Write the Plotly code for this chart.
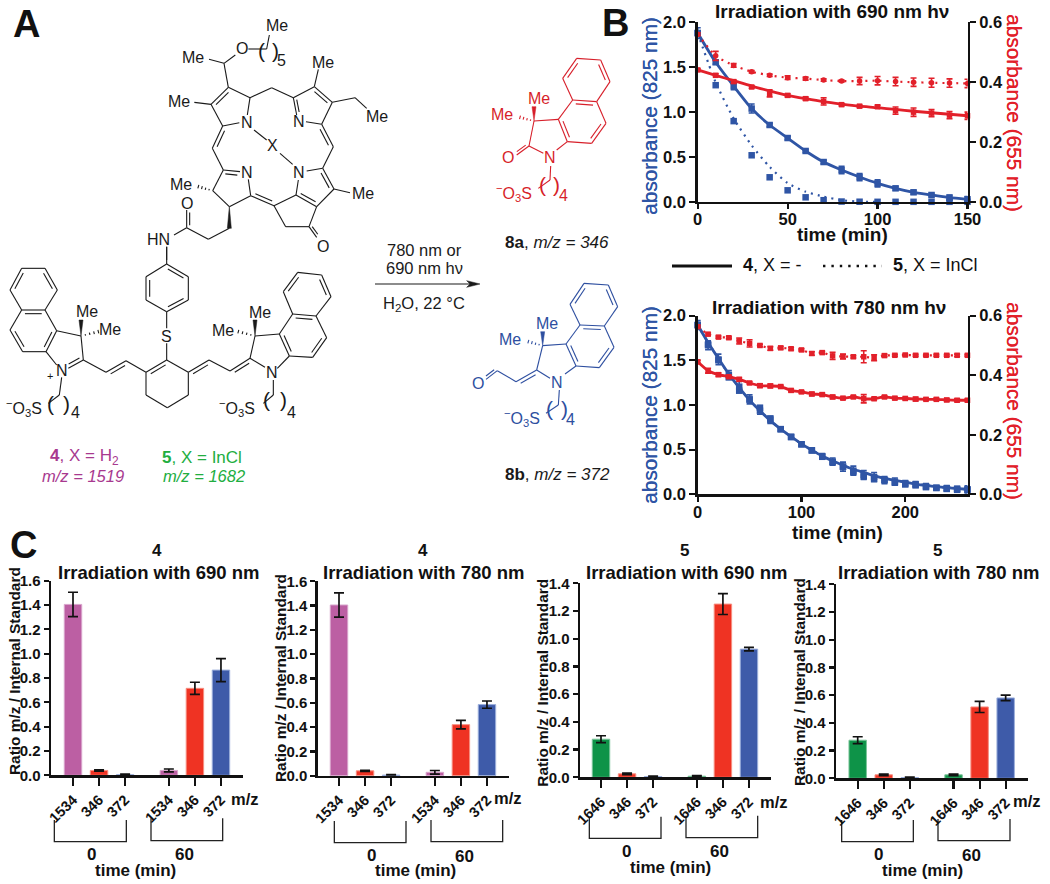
import plotly.graph_objects as go

W, H = 1050, 884
BLACK = "#111111"
BLUE = "#2F55A5"
RED = "#E2202A"
PURPLE = "#BC5FA3"
BARRED = "#EF3323"
BARBLUE = "#3E5BA9"
GREEN = "#0E9348"
FONT = "Liberation Sans"

# ---------- Panel B data ----------
time_690 = [0, 10, 20, 30, 40, 50, 60, 70, 80, 90, 100, 110, 120, 130, 140, 150]
blue4_690 = [1.88, 1.555, 1.29, 1.04, 0.857, 0.712, 0.568, 0.445, 0.356, 0.278, 0.208, 0.152, 0.108, 0.078, 0.048, 0.03]
blue4_690_err = [0.06, 0.02, 0.04, 0.05, 0.02, 0.02, 0.015, 0.02, 0.04, 0.04, 0.04, 0.02, 0.02, 0.02, 0.03, 0.03]
blue5_690 = [1.88, 1.30, 0.90, 0.52, 0.275, 0.13, 0.052, 0.02, 0.005, 0.003, 0.002, 0.002, 0.002, 0.002, 0.002, 0.002]
blue5_690_fit = [1.88, 1.33, 0.93, 0.63, 0.39, 0.21, 0.115, 0.06, 0.02, 0.005, 0.0]
red4_690 = [0.441, 0.423, 0.402, 0.384, 0.363, 0.356, 0.345, 0.336, 0.325, 0.32, 0.318, 0.305, 0.30, 0.297, 0.29, 0.288]
red4_690_fit = [0.441, 0.423, 0.405, 0.387, 0.371, 0.356, 0.345, 0.335, 0.327, 0.32, 0.315, 0.309, 0.303, 0.298, 0.293, 0.288]
red4_690_err = [0.004, 0.005, 0.005, 0.004, 0.012, 0.005, 0.005, 0.012, 0.004, 0.004, 0.005, 0.012, 0.014, 0.012, 0.012, 0.012]
red5_690 = [0.56, 0.488, 0.456, 0.435, 0.423, 0.415, 0.412, 0.407, 0.404, 0.404, 0.405, 0.402, 0.40, 0.398, 0.397, 0.396]
red5_690_err = [0.005, 0.015, 0.006, 0.004, 0.004, 0.006, 0.005, 0.004, 0.003, 0.012, 0.014, 0.014, 0.014, 0.015, 0.014, 0.014]

time_780 = [0, 10, 20, 30, 40, 50, 60, 70, 80, 90, 100, 110, 120, 130, 140, 150, 160, 170, 180, 190, 200, 210, 220, 230, 240, 250, 260]
blue4_780 = [1.895, 1.67, 1.51, 1.335, 1.205, 1.063, 0.937, 0.832, 0.728, 0.645, 0.56, 0.493, 0.425, 0.366, 0.31, 0.265, 0.216, 0.194, 0.16, 0.142, 0.123, 0.112, 0.09, 0.075, 0.067, 0.06, 0.056]
blue4_780_fit = [1.895, 1.70, 1.52, 1.345, 1.195, 1.055, 0.935, 0.825, 0.73, 0.645, 0.565, 0.495, 0.43, 0.375, 0.325, 0.28, 0.245, 0.21, 0.18, 0.155, 0.135, 0.115, 0.10, 0.085, 0.075, 0.065, 0.055]
blue4_780_err = [0.05, 0.05, 0.06, 0.05, 0.06, 0.05, 0.04, 0.04, 0.02, 0.02, 0.02, 0.02, 0.03, 0.04, 0.05, 0.05, 0.05, 0.05, 0.04, 0.04, 0.03, 0.03, 0.03, 0.02, 0.03, 0.03, 0.04]
blue5_780 = [1.895, 1.68, 1.50, 1.31, 1.16, 1.06, 0.97, 0.85, 0.73, 0.64, 0.56, 0.49, 0.42, 0.36, 0.31, 0.25, 0.20, 0.17, 0.16, 0.13, 0.11, 0.10, 0.08, 0.07, 0.06, 0.05, 0.05]
red4_780 = [0.445, 0.415, 0.402, 0.395, 0.386, 0.374, 0.365, 0.364, 0.362, 0.349, 0.344, 0.337, 0.335, 0.327, 0.323, 0.327, 0.321, 0.321, 0.327, 0.323, 0.322, 0.32, 0.319, 0.319, 0.317, 0.316, 0.316]
red4_780_err = [0.005, 0.008, 0.006, 0.004, 0.006, 0.004, 0.006, 0.006, 0.004, 0.005, 0.004, 0.006, 0.005, 0.006, 0.004, 0.004, 0.014, 0.004, 0.004, 0.004, 0.004, 0.006, 0.004, 0.004, 0.005, 0.005, 0.005]
red5_780 = [0.563, 0.538, 0.528, 0.526, 0.515, 0.507, 0.50, 0.49, 0.492, 0.489, 0.485, 0.473, 0.476, 0.465, 0.463, 0.462, 0.462, 0.459, 0.466, 0.467, 0.468, 0.467, 0.467, 0.467, 0.467, 0.467, 0.467]
red5_780_err = [0.004, 0.004, 0.004, 0.004, 0.01, 0.012, 0.004, 0.006, 0.004, 0.004, 0.004, 0.006, 0.004, 0.012, 0.008, 0.004, 0.02, 0.01, 0.004, 0.003, 0.003, 0.003, 0.003, 0.003, 0.003, 0.004, 0.004]

# ---------- Panel C data ----------
labels_4 = ["1534", "346", "372", "1534", "346", "372"]
labels_5 = ["1646", "346", "372", "1646", "346", "372"]
bars_4_690 = [1.405, 0.04, 0.005, 0.04, 0.715, 0.865]
errs_4_690 = [0.10, 0.005, 0.005, 0.012, 0.05, 0.095]
bars_4_780 = [1.405, 0.04, 0.005, 0.028, 0.42, 0.585]
errs_4_780 = [0.10, 0.005, 0.005, 0.015, 0.035, 0.03]
bars_5_690 = [0.275, 0.025, 0.005, 0.008, 1.25, 0.925]
errs_5_690 = [0.025, 0.005, 0.003, 0.005, 0.075, 0.012]
bars_5_780 = [0.275, 0.025, 0.005, 0.025, 0.515, 0.58]
errs_5_780 = [0.025, 0.005, 0.003, 0.005, 0.04, 0.02]
bar_slots = [1, 2, 3, 4.68, 5.68, 6.68]

fig = go.Figure()
annots = []


def T(x, y, text, size=16, color=BLACK, bold=False, angle=0, xanchor="center", shadow=None):
    f = dict(family=FONT, size=size, color=color, weight=700 if bold else 400)
    if shadow:
        f["shadow"] = shadow
    annots.append(dict(xref="paper", yref="paper", x=x / W, y=1 - y / H, text=text, showarrow=False,
                       xanchor=xanchor, yanchor="middle", textangle=angle, align="center",
                       borderpad=0, borderwidth=0, captureevents=False, font=f))


def dom_x(a, b):
    return [a / W, b / W]


def dom_y(top, bottom):
    return [1 - bottom / H, 1 - top / H]


layout = dict(width=W, height=H, margin=dict(l=0, r=0, t=0, b=0, autoexpand=False), paper_bgcolor="white",
              plot_bgcolor="rgba(0,0,0,0)", showlegend=False, font=dict(family=FONT, color=BLACK))

axis_common = dict(showgrid=False, zeroline=False, showline=True, linecolor=BLACK, linewidth=2.4, ticks="outside",
                   tickcolor=BLACK, tickwidth=2.2, tickfont=dict(family=FONT, size=16.5, color=BLACK, weight=700))

# ---------- Overlay axes for line art ----------
layout["xaxis"] = dict(domain=[0, 1], range=[0, W], visible=False, fixedrange=True)
layout["yaxis"] = dict(domain=[0, 1], range=[H, 0], visible=False, fixedrange=True)


# ---------- Panel B ----------
def panel_b(i, x0, x1, top, bot, xmax, xtick, t, b4, b4fit, b4e, b5, b5fit, r4, r4fit, r4e, r5, r5e):
    xa, ya, ya2 = f"x{i}", f"y{i}", f"y{i+1}"
    layout[f"xaxis{i}"] = dict(domain=dom_x(x0, x1), range=[0, xmax], anchor=ya, tickvals=xtick, ticklen=5,
                               ticklabelstandoff=-4, **axis_common)
    layout[f"yaxis{i}"] = dict(domain=dom_y(top, bot), range=[0, 2], anchor=xa, tickvals=[0, .5, 1, 1.5, 2],
                               tickformat=".1f", ticklen=6, **axis_common)
    layout[f"yaxis{i+1}"] = dict(domain=dom_y(top, bot), range=[0, 0.6], anchor=xa, overlaying=ya, side="right",
                                 tickvals=[0, .2, .4, .6], tickformat=".1f", ticklen=6, **axis_common)

    def line(xs, ys, yaxis, color, dash, w):
        fig.add_trace(go.Scatter(x=xs, y=ys, xaxis=xa, yaxis=yaxis, mode="lines", cliponaxis=False, hoverinfo="skip",
                                 line=dict(color=color, width=w, dash=dash, shape="spline", smoothing=0.6)))

    def pts(xs, ys, errs, yaxis, color, size, sym="square"):
        fig.add_trace(go.Scatter(x=xs, y=ys, xaxis=xa, yaxis=yaxis, mode="markers", cliponaxis=False,
                                 marker=dict(color=color, size=size, symbol=sym),
                                 error_y=dict(type="data", array=errs, color=color, thickness=1.6, width=3) if errs else None))

    line(t, r5, ya2, RED, "2px,5px", 2.2)
    pts(t, r5, r5e, ya2, RED, 5.5, "circle" if xmax == 150 else "square")
    line(t, r4fit, ya2, RED, "solid", 2.8)
    pts(t, r4, r4e, ya2, RED, 5.5)
    line(t[:len(b5fit)], b5fit, ya, BLUE, "2px,5px", 2.2)
    pts(t, b5, None, ya, BLUE, 6.5)
    line(t, b4fit, ya, BLUE, "solid", 2.8)
    pts(t, b4, b4e, ya, BLUE, 6.5)


panel_b(2, 697.7, 967.5, 22.3, 202, 150, [0, 50, 100, 150], time_690, blue4_690, blue4_690, blue4_690_err, blue5_690,
        blue5_690_fit, red4_690, red4_690_fit, red4_690_err, red5_690, red5_690_err)
panel_b(4, 697.7, 967.5, 315.7, 494.3, 260, [0, 100, 200], time_780, blue4_780, blue4_780_fit, blue4_780_err, blue5_780,
        blue4_780_fit, red4_780, red4_780, red4_780_err, red5_780, red5_780_err)

T(832, 12, "Irradiation with 690 nm hν", 19, bold=True)
T(829, 307, "Irradiation with 780 nm hν", 19, bold=True)
T(842, 235, "time (min)", 19, bold=True)
T(837, 532, "time (min)", 19, bold=True)
T(650, 116, "absorbance (825 nm)", 20.8, BLUE, angle=-90, shadow=f"0.35px 0 0 {BLUE}")
T(650, 405, "absorbance (825 nm)", 20.8, BLUE, angle=-90, shadow=f"0.35px 0 0 {BLUE}")
T(1014, 113, "absorbance (655 nm)", 20.8, RED, angle=90, shadow=f"0.35px 0 0 {RED}")
T(1014, 401, "absorbance (655 nm)", 20.8, RED, angle=90, shadow=f"0.35px 0 0 {RED}")
T(743, 265, "<b>4</b>, X = -", 18, xanchor="left")
T(893, 265, "<b>5</b>, X = InCl", 18, xanchor="left")
fig.add_trace(go.Scatter(x=[672, 732], y=[266, 266], xaxis="x", yaxis="y", mode="lines", hoverinfo="skip",
                         line=dict(color=BLACK, width=3.2)))
fig.add_trace(go.Scatter(x=[823, 882], y=[266, 266], xaxis="x", yaxis="y", mode="lines", hoverinfo="skip",
                         line=dict(color=BLACK, width=2.4, dash="2.4px,6px")))


# ---------- Panel C ----------
def panel_c(i, x0, x1, top, bot, ymax, ticks, tlabels, vals, errs, col0, m0):
    xa, ya = f"x{i}", f"y{i}"
    unit = 26.05
    lo = 1 - (m0 - x0) / unit
    hi = lo + (x1 - x0) / unit
    ac = dict(axis_common)
    ac["tickfont"] = dict(family=FONT, size=14.5, color=BLACK, weight=700)
    layout[f"xaxis{i}"] = dict(domain=dom_x(x0, x1), range=[lo, hi], anchor=ya, tickvals=bar_slots, ticktext=tlabels,
                               tickangle=-45, ticklen=8, **ac)
    ac2 = dict(axis_common)
    ac2["tickfont"] = dict(family=FONT, size=15, color=BLACK, weight=700)
    layout[f"yaxis{i}"] = dict(domain=dom_y(top, bot), range=[0, ymax], anchor=xa, tickvals=ticks, tickformat=".1f",
                               ticklen=5, **ac2)
    colors = [col0, BARRED, BARBLUE, col0, BARRED, BARBLUE]
    e0 = "#D9A5CC" if col0 == PURPLE else "#7CC49A"
    edges = [e0, "#F78E80", "#9DB0DC", e0, "#F78E80", "#9DB0DC"]
    fig.add_trace(go.Bar(x=bar_slots, y=vals, xaxis=xa, yaxis=ya, width=0.67, cliponaxis=False,
                         marker=dict(color=colors, line=dict(color=edges, width=1)),
                         error_y=dict(type="data", array=errs, color=BLACK, thickness=1.7, width=5)))


ticks16 = [0, .2, .4, .6, .8, 1, 1.2, 1.4, 1.6]
ticks14 = [0, .2, .4, .6, .8, 1, 1.2, 1.4]
panel_c(6, 51, 242.7, 580.7, 775.3, 1.6, ticks16, labels_4, bars_4_690, errs_4_690, PURPLE, 73)
panel_c(7, 317.7, 508.7, 581.3, 775.7, 1.6, ticks16, labels_4, bars_4_780, errs_4_780, PURPLE, 339)
panel_c(8, 580, 770.7, 583.3, 777.3, 1.4, ticks14, labels_5, bars_5_690, errs_5_690, GREEN, 601)
panel_c(9, 836, 1027.7, 584.3, 778.3, 1.4, ticks14, labels_5, bars_5_780, errs_5_780, GREEN, 857.7)

z3 = lambda x, y: (x / 3, y / 3 + 520)
z4 = lambda x, y: (x / 3 + 520, y / 3 + 520)
for zf, txts in [
    (z3, [(470, 92, "4"), (477, 158, "Irradiation with 690 nm"), (735, 838, "m/z"), (273, 1003, "0"), (553, 1003, "60"), (406, 1050, "time (min)")]),
    (z3, [(1270, 92, "4"), (1273, 158, "Irradiation with 780 nm"), (1523, 835, "m/z"), (1113, 1005, "0"), (1393, 1008, "60"), (1245, 1052, "time (min)")]),
    (z4, [(493, 92, "5"), (500, 158, "Irradiation with 690 nm"), (762, 845, "m/z"), (318, 993, "0"), (597, 995, "60"), (450, 1042, "time (min)")]),
    (z4, [(1252, 92, "5"), (1258, 158, "Irradiation with 780 nm"), (1522, 842, "m/z"), (1075, 1003, "0"), (1353, 1005, "60"), (1207, 1050, "time (min)")]),
]:
    for x, y, s in txts:
        px, py = zf(x, y)
        size = 18.5 if s.startswith("Irr") else 17 if s != "m/z" else 16.5
        T(px, py, s, size, bold=True)
T(14, 671, "Ratio m/z / Internal Standard", 15.4, bold=True, angle=-90)
T(280, 678, "Ratio m/z / Internal Standard", 15.4, bold=True, angle=-90)
T(541.7, 683, "Ratio m/z / Internal Standard", 15.4, bold=True, angle=-90)
T(799, 682, "Ratio m/z / Internal Standard", 15.4, bold=True, angle=-90)

T(26, 24, "A", 38, bold=True)
T(615, 23, "B", 38, bold=True)
T(23, 545, "C", 38, bold=True)

# brackets under the bar panels
bracket_xs, bracket_ys = [], []
for zf, sets in [(z3, [(163, 379, 900, 965), (453, 668, 895, 962), (1003, 1218, 903, 968), (1293, 1508, 900, 965)]),
                 (z4, [(208, 423, 890, 955), (498, 713, 887, 953), (965, 1180, 900, 965), (1254, 1470, 897, 962)])]:
    for a, b, t_, d in sets:
        for p in [(a, t_), (a, d), (b, d), (b, t_)]:
            px, py = zf(*p)
            bracket_xs.append(px)
            bracket_ys.append(py)
        bracket_xs.append(None)
        bracket_ys.append(None)
fig.add_trace(go.Scatter(x=bracket_xs, y=bracket_ys, xaxis="x", yaxis="y", mode="lines", hoverinfo="skip",
                         line=dict(color="#222222", width=1.3)))


# ---------- Panel A line art (drawn in the zoom-grid units of each group) ----------
class Art:
    def __init__(self, color, tf):
        self.c, self.tf, self.lx, self.ly, self.px, self.py = color, tf, [], [], [], []

    def seg(self, a, b):
        p, q = self.tf(*a), self.tf(*b)
        self.lx += [p[0], q[0], None]
        self.ly += [p[1], q[1], None]

    def chain(self, *pts):
        for a, b in zip(pts, pts[1:]):
            self.seg(a, b)

    def dbl(self, a, b, ref, off=11, trim=.14):
        self.seg(a, b)
        dx, dy = b[0] - a[0], b[1] - a[1]
        L = (dx * dx + dy * dy) ** .5
        nx, ny = -dy / L, dx / L
        if (ref[0] - a[0]) * nx + (ref[1] - a[1]) * ny < 0:
            nx, ny = -nx, -ny
        self.seg((a[0] + dx * trim + nx * off, a[1] + dy * trim + ny * off),
                 (b[0] - dx * trim + nx * off, b[1] - dy * trim + ny * off))

    def wedge(self, a, b, w=6):
        dx, dy = b[0] - a[0], b[1] - a[1]
        L = (dx * dx + dy * dy) ** .5
        nx, ny = -dy / L * w, dx / L * w
        for p in [self.tf(*a), self.tf(b[0] + nx, b[1] + ny), self.tf(b[0] - nx, b[1] - ny), self.tf(*a)]:
            self.px.append(p[0])
            self.py.append(p[1])
        self.px.append(None)
        self.py.append(None)

    def hash(self, a, b, n=4):
        dx, dy = b[0] - a[0], b[1] - a[1]
        L = (dx * dx + dy * dy) ** .5
        nx, ny = -dy / L, dx / L
        for k in range(1, n + 1):
            f, w = k / n, 1.5 + 4 * k / n
            m = (a[0] + dx * f, a[1] + dy * f)
            self.seg((m[0] - nx * w, m[1] - ny * w), (m[0] + nx * w, m[1] + ny * w))

    def txt(self, x, y, s, size=16, **k):
        p = self.tf(x, y)
        T(p[0], p[1], s, size, self.c, **k)

    def flush(self, w=1.1):
        fig.add_trace(go.Scatter(x=self.lx, y=self.ly, xaxis="x", yaxis="y", mode="lines", hoverinfo="skip",
                                 line=dict(color=self.c, width=w)))
        if self.px:
            fig.add_trace(go.Scatter(x=self.px, y=self.py, xaxis="x", yaxis="y", mode="lines", hoverinfo="skip",
                                     fill="toself", fillcolor=self.c, line=dict(color=self.c, width=.5)))


INK = "#1A1A1A"
PAREN = 21
# --- chlorin, upper part
A = Art(INK, lambda x, y: (x / 3, y / 3))
A.txt(830, 77, "Me"); A.txt(578, 172, "Me"); A.txt(725, 145, "O")
A.txt(968, 187, "Me"); A.txt(538, 305, "Me"); A.txt(1130, 350, "Me")
A.txt(740, 367, "N"); A.txt(897, 365, "N"); A.txt(818, 438, "X")
A.txt(740, 518, "N"); A.txt(897, 518, "N"); A.txt(543, 553, "Me"); A.txt(1088, 580, "Me")
A.txt(562, 610, "O"); A.txt(968, 738, "O"); A.txt(475, 718, "HN")
A.txt(783, 150, "(", PAREN); A.txt(827, 150, ")", PAREN); A.txt(845, 182, "5")
A.chain((745, 147), (800, 147), (808, 105))
A.chain((627, 178), (672, 190), (706, 165))
A.seg((672, 190), (685, 262))
A.dbl((685, 262), (633, 313), (700, 330))
A.chain((685, 262), (750, 293), (742, 345))
A.chain((718, 368), (668, 378), (633, 313), (583, 307))
A.chain((750, 293), (815, 263), (880, 293), (943, 260))
A.dbl((880, 293), (890, 345), (940, 330), off=9)
A.chain((918, 365), (965, 373), (997, 307))
A.dbl((997, 307), (943, 260), (930, 330))
A.seg((943, 260), (955, 208))
A.chain((997, 307), (1065, 293), (1100, 325))
A.dbl((668, 378), (637, 445), (680, 440))
A.chain((637, 445), (670, 510))
A.dbl((965, 373), (1000, 440), (950, 440))
A.seg((1000, 440), (968, 505))
A.dbl((670, 510), (720, 515), (700, 560))
A.chain((745, 538), (752, 587), (688, 620), (638, 572), (670, 510))
A.hash((638, 572), (595, 560))
A.chain((968, 505), (920, 513))
A.seg((895, 540), (888, 585))
A.dbl((888, 585), (950, 620), (950, 560))
A.seg((950, 620), (1002, 567))
A.dbl((1002, 567), (968, 505), (945, 560))
A.seg((1002, 567), (1050, 578))
A.dbl((752, 587), (822, 617), (790, 570))
A.chain((822, 617), (888, 585))
A.chain((822, 617), (857, 680), (927, 680), (950, 620))
A.dbl((927, 680), (950, 712), (960, 680), off=8)
A.seg((762, 390), (800, 420)); A.seg((840, 460), (878, 493))
A.wedge((688, 620), (688, 685))
A.chain((688, 685), (625, 718), (560, 683), (522, 705))
A.dbl((560, 683), (560, 630), (575, 655), off=9)
A.seg((500, 740), (500, 780))
A.flush()

# --- lower part
Z = Art(INK, lambda x, y: (x / 3, y / 3 + 240))
Z.txt(500, 288, "S"); Z.txt(260, 215, "Me"); Z.txt(330, 268, "Me"); Z.txt(187, 390, "N")
Z.txt(150, 407, "+", 11); Z.txt(780, 218, "Me"); Z.txt(670, 270, "Me"); Z.txt(815, 398, "N")
Z.txt(72, 503, "<sup>−</sup>O<sub>3</sub>S"); Z.txt(712, 503, "<sup>−</sup>O<sub>3</sub>S")
Z.txt(152, 490, "(", PAREN); Z.txt(200, 490, ")", PAREN); Z.txt(225, 518, "4")
Z.txt(800, 480, "(", PAREN); Z.txt(850, 480, ")", PAREN); Z.txt(873, 518, "4")
Z.seg((500, 20), (500, 72))
Z.dbl((500, 72), (565, 110), (500, 145)); Z.seg((565, 110), (565, 180))
Z.dbl((565, 180), (500, 215), (500, 145)); Z.seg((500, 215), (438, 180))
Z.dbl((438, 180), (438, 110), (500, 145)); Z.seg((438, 110), (500, 72))
Z.seg((500, 215), (500, 265)); Z.seg((500, 310), (500, 360))
Z.dbl((438, 397), (500, 360), (500, 430))
Z.chain((500, 360), (565, 397), (565, 465), (502, 503), (438, 465), (438, 397))
Z.seg((438, 397), (378, 362))
Z.dbl((378, 362), (318, 397), (370, 400))
Z.seg((318, 397), (250, 360))
Z.dbl((565, 397), (627, 360), (630, 400)); Z.seg((627, 360), (690, 393))
Z.dbl((690, 393), (750, 355), (750, 395)); Z.seg((750, 355), (795, 382))
Z.dbl((250, 360), (205, 385), (205, 345)); Z.chain((250, 360), (243, 288), (170, 272))
Z.dbl((170, 272), (138, 335), (100, 272)); Z.seg((138, 335), (170, 375))
Z.seg((135, 210), (170, 272))
Z.dbl((135, 210), (65, 210), (100, 272)); Z.seg((65, 210), (30, 270))
Z.dbl((30, 270), (68, 335), (100, 272)); Z.seg((68, 335), (138, 335))
Z.seg((65, 210), (30, 150)); Z.dbl((30, 150), (65, 85), (100, 150)); Z.seg((65, 85), (135, 85))
Z.dbl((135, 85), (172, 150), (100, 150)); Z.seg((172, 150), (135, 210))
Z.wedge((243, 288), (243, 240)); Z.hash((243, 288), (295, 275))
Z.chain((185, 412), (178, 465), (145, 490))
Z.chain((750, 355), (765, 288), (838, 282))
Z.dbl((838, 282), (868, 348), (910, 285)); Z.seg((868, 348), (832, 385))
Z.seg((838, 282), (878, 222)); Z.dbl((878, 222), (948, 228), (910, 285)); Z.seg((948, 228), (980, 293))
Z.dbl((980, 293), (938, 352), (910, 285)); Z.seg((938, 352), (868, 348))
Z.seg((878, 222), (850, 155)); Z.dbl((850, 155), (893, 97), (920, 165)); Z.seg((893, 97), (965, 105))
Z.dbl((965, 105), (993, 170), (920, 165)); Z.seg((993, 170), (948, 228))
Z.wedge((765, 288), (765, 240)); Z.hash((765, 288), (715, 275))
Z.chain((820, 420), (820, 465), (790, 490))
# reaction arrow
Z.seg((1125, 132), (1410, 132))
Z.px += [1440 / 3, 1400 / 3, 1410 / 3, 1400 / 3, 1440 / 3, None]
Z.py += [132 / 3 + 240, 122 / 3 + 240, 132 / 3 + 240, 142 / 3 + 240, 132 / 3 + 240, None]
Z.txt(1272, 31, "780 nm or", 16.5); Z.txt(1272, 85, "690 nm hν", 16.5); Z.txt(1272, 193, "H<sub>2</sub>O, 22 °C", 16.5)
Z.flush()
T(84, 457, "<b>4</b>, X = H<sub>2</sub>", 17, "#A8398F")
T(83, 476, "<i>m/z = 1519</i>", 16.5, "#A8398F")
T(202, 457, "<b>5</b>, X = InCl", 17, "#22AE3F")
T(204, 476, "<i>m/z = 1682</i>", 16.5, "#22AE3F")

# --- fragment 8a
tf7 = lambda x, y: (x / 3 + 360, y / 3 + 60)
R = Art("#D71F2A", tf7)
R.txt(537, 115, "Me"); R.txt(427, 165, "Me"); R.txt(445, 292, "O"); R.txt(570, 293, "N")
R.txt(462, 400, "<sup>−</sup>O<sub>3</sub>S"); R.txt(547, 372, "(", PAREN); R.txt(590, 372, ")", PAREN); R.txt(610, 405, "4")
R.wedge((522, 183), (522, 140)); R.hash((522, 183), (480, 172))
R.seg((522, 183), (595, 178)); R.dbl((595, 178), (622, 245), (670, 185)); R.seg((622, 245), (590, 270))
R.chain((550, 280), (507, 258), (522, 183)); R.dbl((507, 258), (470, 285), (470, 260), off=8)
R.seg((595, 178), (638, 120)); R.dbl((638, 120), (710, 125), (670, 185)); R.seg((710, 125), (738, 190))
R.dbl((738, 190), (695, 250), (670, 185)); R.seg((695, 250), (622, 245))
R.seg((638, 120), (608, 55)); R.dbl((608, 55), (650, -5), (680, 60)); R.seg((650, -5), (722, 0))
R.dbl((722, 0), (750, 65), (680, 60)); R.seg((750, 65), (710, 125))
R.chain((572, 318), (570, 360), (535, 385))
R.flush()
T(tf7(592, 547)[0], tf7(592, 547)[1], "<b>8a</b>, <i>m/z = 346</i>", 17, INK)

# --- fragment 8b
Bl = Art("#2E4FA0", tf7)
Bl.txt(560, 790, "Me"); Bl.txt(450, 840, "Me"); Bl.txt(353, 970, "O"); Bl.txt(592, 967, "N")
Bl.txt(486, 1073, "<sup>−</sup>O<sub>3</sub>S"); Bl.txt(568, 1045, "(", PAREN); Bl.txt(612, 1045, ")", PAREN); Bl.txt(632, 1078, "4")
Bl.wedge((548, 857), (548, 815)); Bl.hash((548, 857), (505, 845))
Bl.seg((548, 857), (618, 852)); Bl.dbl((618, 852), (648, 918), (695, 860)); Bl.seg((648, 918), (615, 942))
Bl.chain((570, 955), (530, 930), (548, 857)); Bl.dbl((530, 930), (468, 965), (520, 965))
Bl.seg((468, 965), (412, 932)); Bl.dbl((412, 932), (378, 958), (380, 930), off=8)
Bl.seg((618, 852), (660, 795)); Bl.dbl((660, 795), (733, 798), (695, 860)); Bl.seg((733, 798), (762, 862))
Bl.dbl((762, 862), (718, 923), (695, 860)); Bl.seg((718, 923), (648, 918))
Bl.seg((660, 795), (630, 733)); Bl.dbl((630, 733), (672, 670), (700, 735)); Bl.seg((672, 670), (745, 675))
Bl.dbl((745, 675), (773, 740), (700, 735)); Bl.seg((773, 740), (733, 798))
Bl.chain((598, 990), (595, 1035), (558, 1060))
Bl.flush()
T(tf7(592, 1243)[0], tf7(592, 1243)[1], "<b>8b</b>, <i>m/z = 372</i>", 17, INK)

layout["annotations"] = annots
fig.update_layout(**layout)
fig.write_html("out.html", config=dict(displayModeBar=False, staticPlot=True),
               post_script="document.body.style.margin='0';document.body.style.overflow='hidden';")
